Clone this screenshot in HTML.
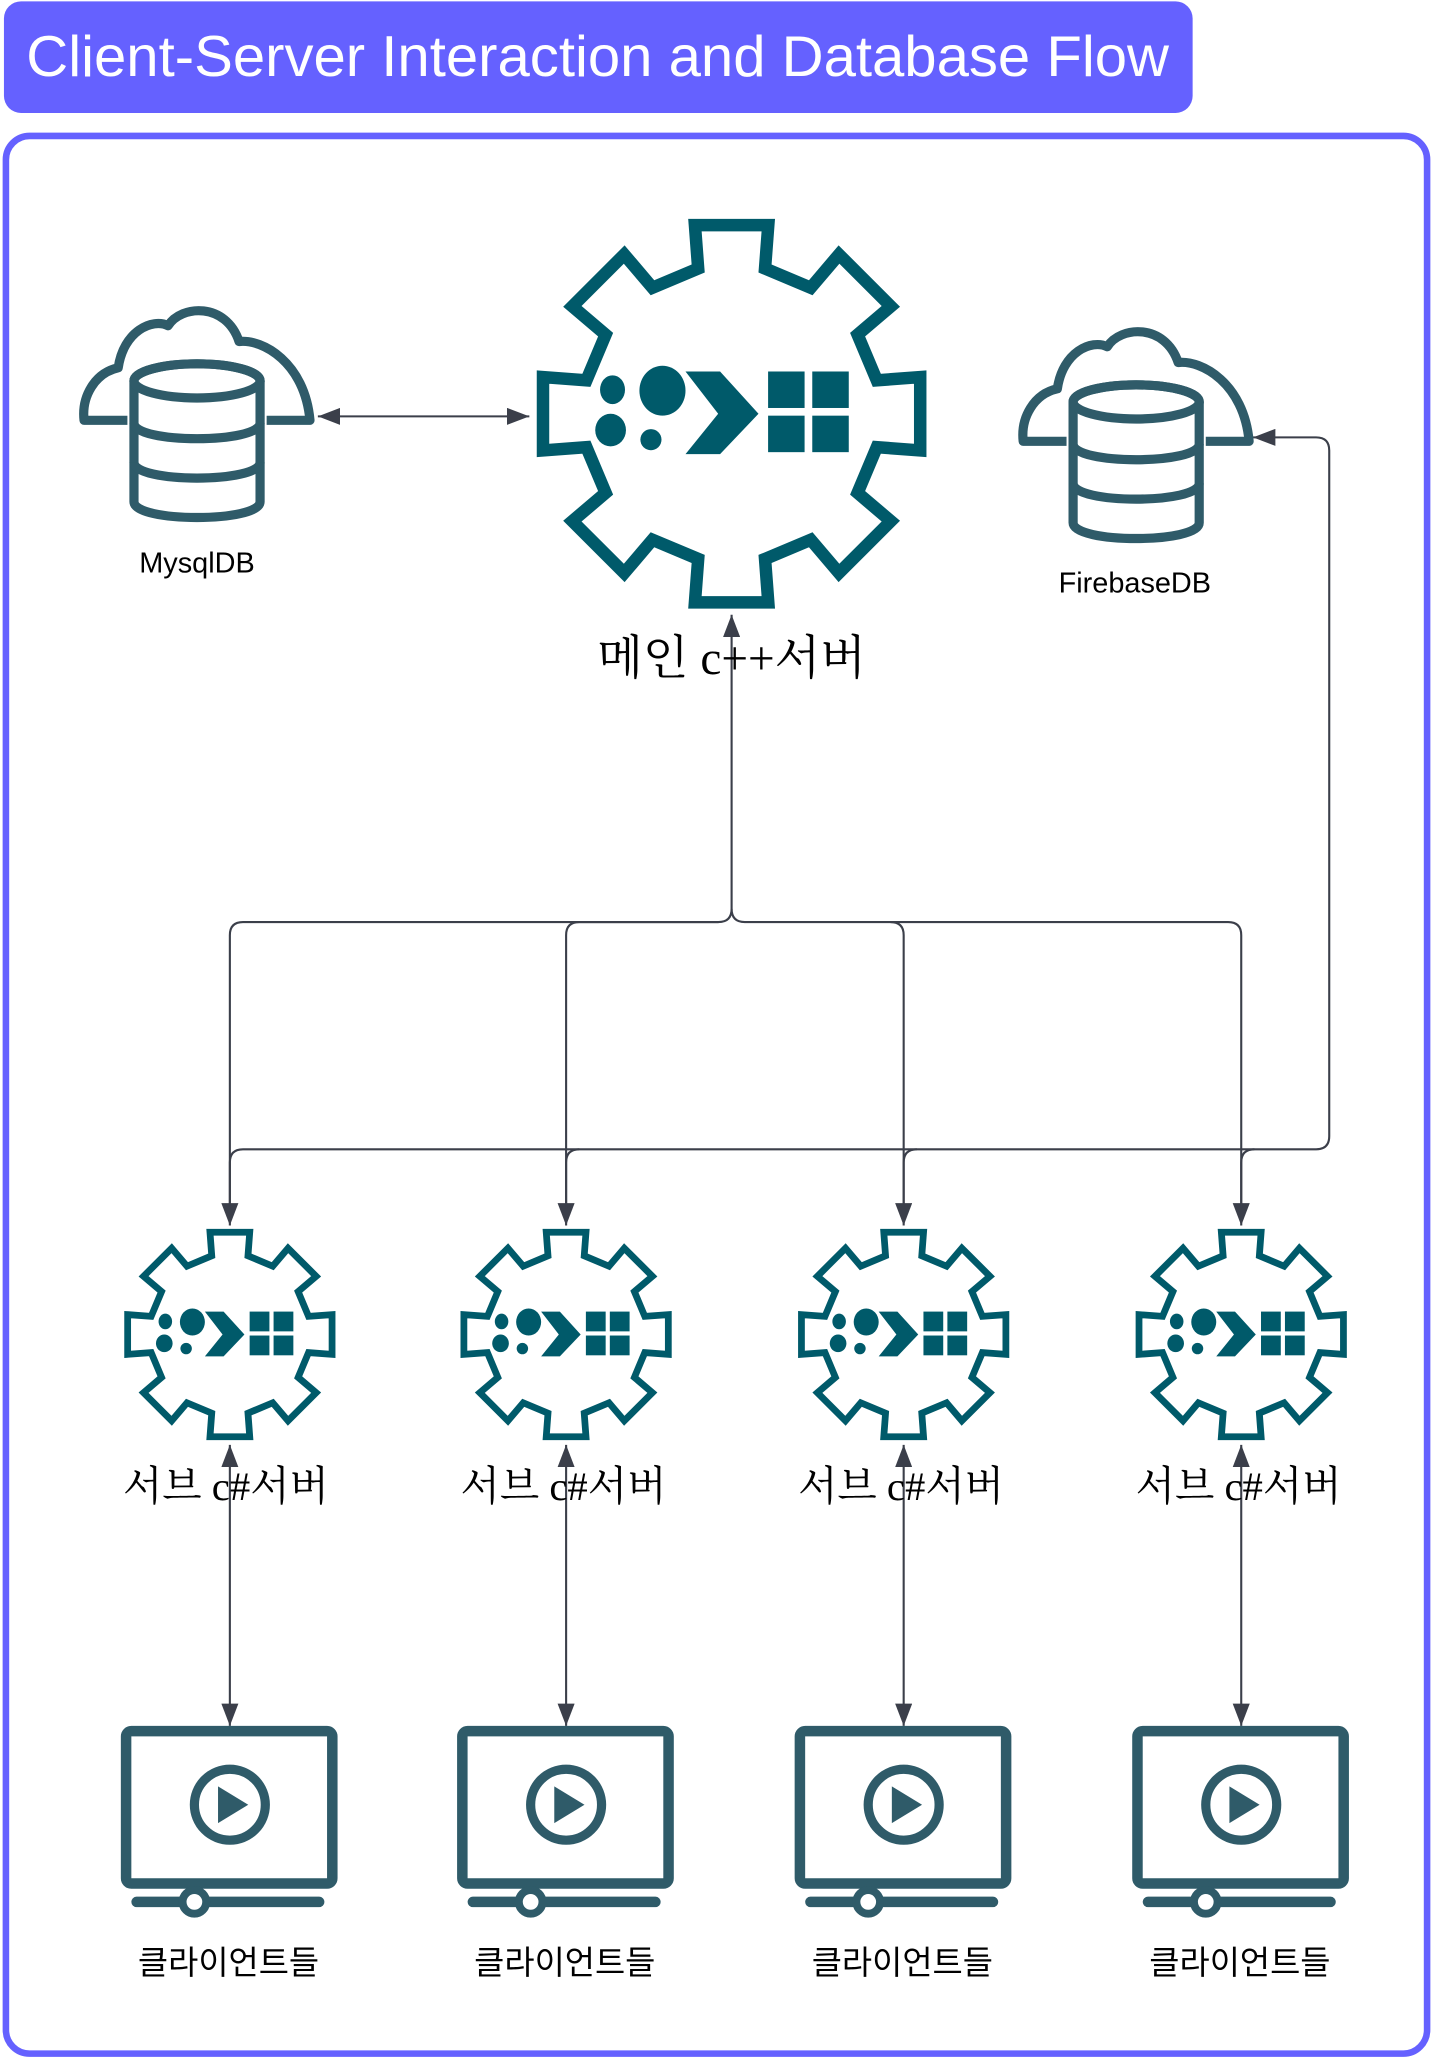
<!DOCTYPE html>
<html><head><meta charset="utf-8"><style>
html,body{margin:0;padding:0;background:#fff;}
svg{display:block;}
</style></head><body>
<svg width="1433" height="2059" viewBox="0 0 1091 1567.6" xmlns="http://www.w3.org/2000/svg">
<defs>
<symbol id="gear" viewBox="-106 -106 212 212">
<polygon fill="#fff" stroke="#005a6a" stroke-width="6.5" stroke-linejoin="miter" points="-17.4,-75.6 -19.1,-98.2 19.1,-98.2 17.4,-75.6 41.2,-65.6 55.9,-82.9 82.9,-55.9 65.6,-41.2 75.6,-17.4 98.2,-19.1 98.2,19.1 75.6,17.4 65.6,41.2 82.9,55.9 55.9,82.9 41.2,65.6 17.4,75.6 19.1,98.2 -19.1,98.2 -17.4,75.6 -41.2,65.6 -55.9,82.9 -82.9,55.9 -65.6,41.2 -75.6,17.4 -98.2,19.1 -98.2,-19.1 -75.6,-17.4 -65.6,-41.2 -82.9,-55.9 -55.9,-82.9 -41.2,-65.6"/>
<g fill="#005a6a">
<ellipse cx="-62" cy="-12.5" rx="6.5" ry="7.5"/>
<ellipse cx="-36" cy="-12" rx="12" ry="13"/>
<ellipse cx="-63" cy="8.5" rx="8" ry="8.5"/>
<circle cx="-42" cy="13.5" r="5.5"/>
<polygon points="-24,-22 -6,-22 14,0 -6,21 -24,21 -7,0"/>
<rect x="19" y="-22" width="19" height="19"/><rect x="42" y="-22" width="19" height="19"/>
<rect x="19" y="1" width="19" height="19"/><rect x="42" y="1" width="19" height="19"/>
</g>
</symbol>
<symbol id="db" viewBox="0 0 180 170">
<g fill="none" stroke="#2f5b69" stroke-width="7" stroke-linejoin="round">
<path d="M37,88 H4 C2,70 12,52 30,48 C34,20 56,10 68,16 C78,0 112,-2 122,28 C140,26 172,44 176,88 H143"/>
<ellipse cx="90" cy="58" rx="48" ry="13" fill="#fff"/>
<path d="M42,58 V150 C42,166 138,166 138,150 V58" fill="#fff"/>
<path d="M42,90 C42,106 138,106 138,90"/>
<path d="M42,120 C42,136 138,136 138,120"/>
<ellipse cx="90" cy="58" rx="48" ry="13"/>
</g>
</symbol>
<symbol id="mon" viewBox="0 0 170 150">
<g stroke="#2f5b69" fill="none">
<rect x="6" y="5" width="157" height="116" rx="4" stroke-width="8"/>
<circle cx="85" cy="61" r="27" stroke-width="7"/>
<polygon points="76,47 76,75 99,61" fill="#2f5b69" stroke="none"/>
<line x1="14" y1="135" x2="153" y2="135" stroke-width="8" stroke-linecap="round"/>
<circle cx="58" cy="135" r="9" fill="#fff" stroke-width="6"/>
</g>
</symbol>
<marker id="ah" viewBox="0 0 10 10" refX="10" refY="5" markerWidth="17" markerHeight="13" orient="auto-start-reverse" markerUnits="userSpaceOnUse" preserveAspectRatio="none">
<path d="M0,0 L10,5 L0,10 z" fill="#3b3f4a"/>
</marker>
</defs>

<rect x="3" y="1" width="905" height="85" rx="13" fill="#6561ff"/>
<text x="20" y="58" fill="#fff" font-family="Liberation Sans, sans-serif" font-size="44" textLength="870" lengthAdjust="spacingAndGlyphs">Client-Server Interaction and Database Flow</text>
<rect x="4.5" y="103.5" width="1082" height="1460" rx="18" fill="#fff" stroke="#6561ff" stroke-width="5"/>

<g fill="none" stroke="#3b3f4a" stroke-width="1.6">
<line x1="242" y1="317" x2="403" y2="317" marker-start="url(#ah)" marker-end="url(#ah)"/>
<path d="M557,468 V692 Q557,702 547,702 H185 Q175,702 175,712 V933" marker-start="url(#ah)" marker-end="url(#ah)"/>
<path d="M547,702 H441 Q431,702 431,712 V933" marker-end="url(#ah)"/>
<path d="M557,692 Q557,702 567,702 H678 Q688,702 688,712 V933" marker-end="url(#ah)"/>
<path d="M678,702 H935 Q945,702 945,712 V933" marker-end="url(#ah)"/>
<path d="M175,920 V885 Q175,875 185,875 H1002 Q1012,875 1012,865 V343 Q1012,333 1002,333 H954" marker-end="url(#ah)"/>
<path d="M431,920 V885 Q431,875 441,875"/>
<path d="M688,920 V885 Q688,875 698,875"/>
<path d="M945,920 V885 Q945,875 955,875"/>
<line x1="175" y1="1100" x2="175" y2="1314" marker-start="url(#ah)" marker-end="url(#ah)"/>
<line x1="431" y1="1100" x2="431" y2="1314" marker-start="url(#ah)" marker-end="url(#ah)"/>
<line x1="688" y1="1100" x2="688" y2="1314" marker-start="url(#ah)" marker-end="url(#ah)"/>
<line x1="945" y1="1100" x2="945" y2="1314" marker-start="url(#ah)" marker-end="url(#ah)"/>
</g>

<use href="#gear" x="402" y="160" width="310" height="310"/>
<use href="#db" x="60" y="232" width="180" height="170"/>
<use href="#db" x="775" y="248" width="180" height="170"/>

<g font-family="Liberation Sans, 'Noto Sans CJK KR', sans-serif" fill="#000" text-anchor="middle">
<text x="150" y="436" font-size="22">MysqlDB</text>
<text x="864" y="451" font-size="22">FirebaseDB</text>
</g>
<text x="557" y="513" font-size="36" text-anchor="middle" font-family="Liberation Serif, 'Noto Serif CJK SC', serif">메인 c++서버</text>

<g>
<use href="#gear" x="90" y="932" width="170" height="168"/>
<use href="#gear" x="346" y="932" width="170" height="168"/>
<use href="#gear" x="603" y="932" width="170" height="168"/>
<use href="#gear" x="860" y="932" width="170" height="168"/>
</g>
<g font-family="Liberation Serif, 'Noto Serif CJK SC', serif" font-size="31" text-anchor="middle" fill="#000">
<text x="172" y="1142">서브 c#서버</text>
<text x="429" y="1142">서브 c#서버</text>
<text x="686" y="1142">서브 c#서버</text>
<text x="943" y="1142">서브 c#서버</text>
</g>

<use href="#mon" x="90" y="1313" width="170" height="150"/>
<use href="#mon" x="346" y="1313" width="170" height="150"/>
<use href="#mon" x="603" y="1313" width="170" height="150"/>
<use href="#mon" x="860" y="1313" width="170" height="150"/>
<g font-family="Liberation Sans, 'Noto Sans CJK KR', sans-serif" font-size="25" text-anchor="middle" fill="#000">
<text x="174" y="1503">클라이언트들</text>
<text x="430" y="1503">클라이언트들</text>
<text x="687" y="1503">클라이언트들</text>
<text x="944" y="1503">클라이언트들</text>
</g>
</svg>
</body></html>
